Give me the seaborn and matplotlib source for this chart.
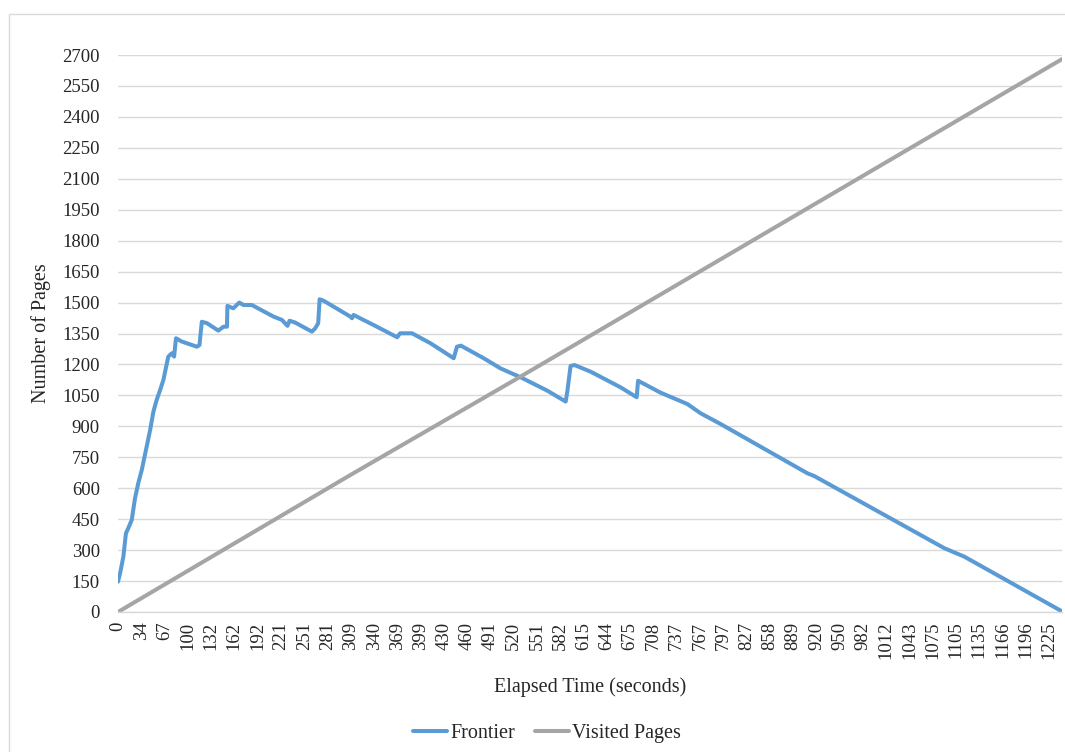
import numpy as np
import pandas as pd
import matplotlib
matplotlib.use("Agg")
import matplotlib.pyplot as plt
from matplotlib.patches import Rectangle
from matplotlib.lines import Line2D
import seaborn as sns

# tick labels on the category axis (elapsed seconds, one label every ~66 samples)
time_labels = ['0', '34', '67', '100', '132', '162', '192', '221', '251', '281',
               '309', '340', '369', '399', '430', '460', '491', '520', '551', '582',
               '615', '644', '675', '708', '737', '767', '797', '827', '858', '889',
               '920', '950', '982', '1012', '1043', '1075', '1105', '1135', '1166',
               '1196', '1225']

# frontier size, position given in label steps along the category axis
frontier_pos = [0.0, 0.09, 0.23, 0.34, 0.44, 0.59, 0.73, 0.87, 1.02, 1.23, 1.38,
                1.52, 1.66, 1.81, 1.95, 2.16, 2.31, 2.41, 2.49, 2.74, 3.39, 3.50,
                3.60, 3.82, 4.31, 4.53, 4.68, 4.70, 4.95, 5.21, 5.39, 5.75, 6.68,
                7.04, 7.28, 7.37, 7.61, 8.33, 8.47, 8.60, 8.66, 8.83, 9.98, 10.05,
                10.12, 10.98, 11.99, 12.12, 12.63, 13.42, 14.42, 14.56, 14.73,
                15.71, 16.43, 17.29, 18.44, 19.23, 19.30, 19.44, 19.61, 20.30,
                21.59, 22.28, 22.34, 23.31, 24.46, 25.03, 25.89, 29.62, 29.91,
                35.50, 36.36, 40.55]
frontier_val = [147, 188, 268, 381, 406, 446, 551, 624, 688, 801, 882,
                971, 1028, 1076, 1125, 1238, 1254, 1238, 1327, 1311, 1286, 1294,
                1407, 1400, 1364, 1383, 1383, 1484, 1472, 1500, 1488, 1488, 1432,
                1416, 1387, 1412, 1403, 1359, 1375, 1400, 1516, 1509, 1432, 1424,
                1440, 1391, 1332, 1351, 1351, 1303, 1230, 1286, 1291,
                1230, 1181, 1138, 1073, 1020, 1068, 1193, 1197, 1165,
                1089, 1041, 1121, 1063, 1008, 963, 911, 672, 659,
                309, 268, 3]

# visited pages (straight line)
visited_pos = [0.0, 9.98, 17.29, 40.55]
visited_val = [0, 664, 1141, 2680]

df = pd.concat([
    pd.DataFrame({'pos': frontier_pos, 'pages': frontier_val, 'series': 'Frontier'}),
    pd.DataFrame({'pos': visited_pos, 'pages': visited_val, 'series': 'Visited Pages'}),
])

sns.set_theme(style="white")
plt.rcParams['font.family'] = ['Liberation Serif', 'DejaVu Serif']

fig = plt.figure(figsize=(10.65, 7.52), dpi=100)
ax = fig.add_axes([118 / 1065, 1 - 612 / 752, (1062 - 118) / 1065, (612 - 55) / 752])

sns.lineplot(data=df, x='pos', y='pages', hue='series', sort=False, estimator=None,
             palette={'Frontier': '#5B9BD5', 'Visited Pages': '#A5A5A5'},
             linewidth=2.9, ax=ax, legend=False)

ax.set_xlim(0, 40.55)
ax.set_ylim(0, 2700)
ax.set_yticks(range(0, 2701, 150))
ax.set_xticks(range(len(time_labels)))
ax.set_xticklabels(time_labels, rotation=90, fontsize=13.5)
ax.tick_params(axis='y', labelsize=13.5, length=0, pad=13)
ax.tick_params(axis='x', length=0, pad=7)
ax.grid(axis='y', color='#D9D9D9', linewidth=1)
ax.grid(axis='x', visible=False)
ax.set_axisbelow(True)
for s in ['top', 'right', 'left']:
    ax.spines[s].set_visible(False)
ax.spines['bottom'].set_color('#D9D9D9')
ax.spines['bottom'].set_linewidth(1)

ax.set_xlabel('Elapsed Time (seconds)', fontsize=14.5, labelpad=13)
ax.set_ylabel('Number of Pages', fontsize=14.5, labelpad=8)

handles = [Line2D([], [], color='#5B9BD5', linewidth=2.9),
           Line2D([], [], color='#A5A5A5', linewidth=2.9)]
fig.legend(handles, ['Frontier', 'Visited Pages'], loc='center',
           bbox_to_anchor=(547 / 1065, 1 - 733 / 752), ncol=2, frameon=False,
           fontsize=14.5, handlelength=1.7, handletextpad=0.15, columnspacing=1.0)

# chart area border
fig.patches.append(Rectangle((9 / 1065, -0.01), 1.0, 1 - 14 / 752 + 0.01,
                             transform=fig.transFigure, fill=False,
                             edgecolor='#D9D9D9', linewidth=1))

fig.savefig('out.png', dpi=100)
